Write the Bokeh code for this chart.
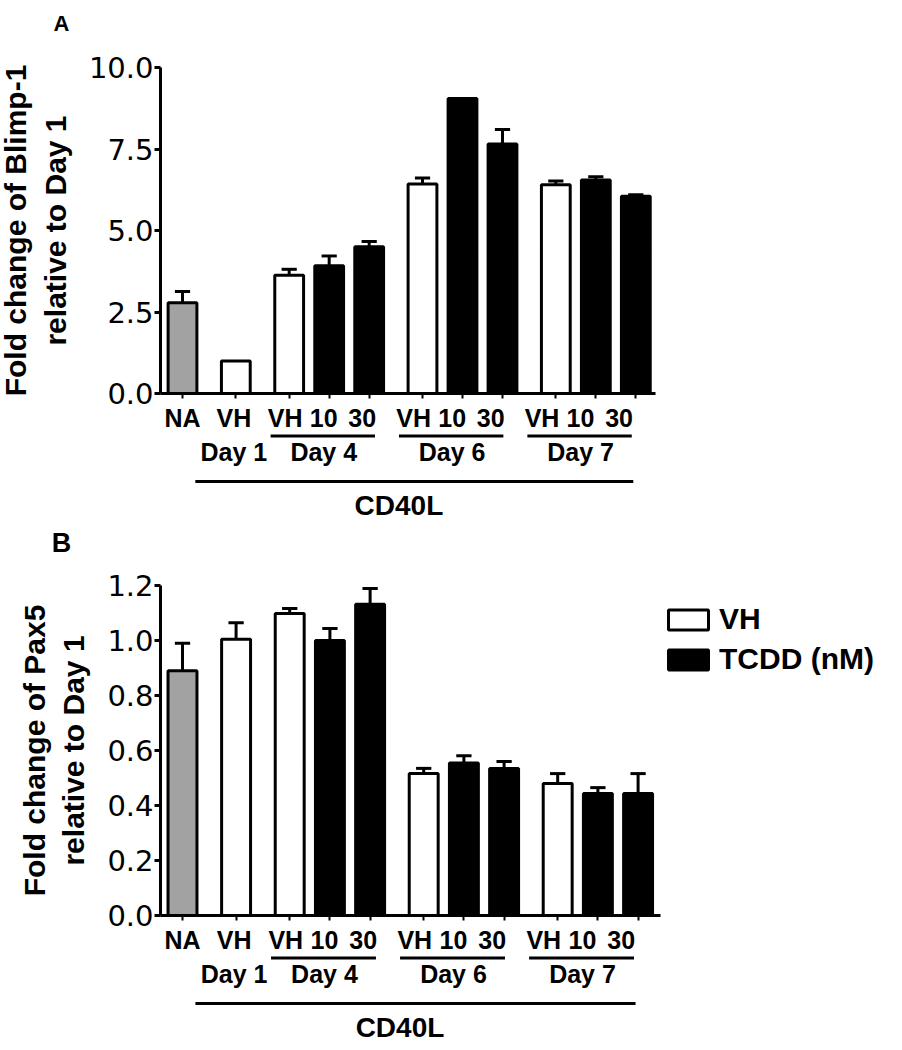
import numpy as np
from bokeh.plotting import figure
from bokeh.models import (ColumnDataSource, LinearAxis, FixedTicker, PrintfTickFormatter,
                          Range1d, Legend, LegendItem)
from bokeh.layouts import column
from bokeh.core.properties import value
from bokeh.embed import file_html
from bokeh.resources import INLINE

# ---------------- data ----------------
conditions = ["NA", "VH", "VH", "10", "30", "VH", "10", "30", "VH", "10", "30"]
treatment = ["NA", "VH", "VH", "TCDD", "TCDD", "VH", "TCDD", "TCDD", "VH", "TCDD", "TCDD"]
group = [0, 1, 2, 2, 2, 3, 3, 3, 4, 4, 4]
day_names = ["", "Day 1", "Day 4", "Day 6", "Day 7"]
stim_label = "CD40L"

blimp_mean = [2.78, 1.0, 3.63, 3.92, 4.50, 6.43, 9.05, 7.65, 6.40, 6.55, 6.05]
blimp_err = [0.35, 0.0, 0.18, 0.30, 0.16, 0.18, 0.0, 0.45, 0.12, 0.10, 0.05]
pax5_mean = [0.89, 1.005, 1.098, 1.0, 1.132, 0.516, 0.555, 0.535, 0.48, 0.444, 0.444]
pax5_err = [0.10, 0.06, 0.018, 0.044, 0.057, 0.019, 0.026, 0.025, 0.036, 0.021, 0.072]

blimp_ticks = [0, 2.5, 5.0, 7.5, 10.0]
pax5_ticks = [0, 0.2, 0.4, 0.6, 0.8, 1.0, 1.2]
blimp_title = "Fold change of Blimp-1\nrelative to Day 1"
pax5_title = "Fold change of Pax5\nrelative to Day 1"
legend_labels = ["VH", "TCDD (nM)"]

# ---------------- layout constants ----------------
FIG_W = 886
ORIGIN = 0         # picture x of the figure's left edge
NA_PX = 182        # picture x of first bar
YAXIS_PX = 160     # picture x of y axis
BAR_W = 0.72
CAP_W = 0.38
LABEL_K = 0.963    # label layer compression seen in the figure
FONT = "Liberation Sans"
BOLD = value(FONT)
# pixel offsets below the x axis: tick labels, underline, day labels, CD40L line, CD40L text
OFFS = [24, 42.5, 58.5, 88, 111.5]

pos = [round(i + g / 3.0, 3) for i, g in enumerate(group)]


def make_panel(letter, letter_size, mean, err, ticks, ytitle, top_px, bottom_px,
               y0_px, ppu, ppx, axis_end_px, legend_loc=None):
    x_start = (ORIGIN - NA_PX) / ppx
    x_end = (ORIGIN + FIG_W - NA_PX) / ppx
    y_end = (y0_px - top_px) / ppu
    y_start = -(bottom_px - y0_px) / ppu
    p = figure(width=FIG_W, height=bottom_px - top_px,
               x_range=Range1d(x_start, x_end), y_range=Range1d(y_start, y_end),
               x_axis_type=None, y_axis_type=None, toolbar_location=None,
               output_backend="svg", min_border=0, outline_line_color=None)
    p.background_fill_color = "white"
    p.border_fill_color = "white"

    yax_x = (YAXIS_PX - NA_PX) / ppx
    yaxis = LinearAxis(fixed_location=yax_x, bounds=(0, ticks[-1]),
                       ticker=FixedTicker(ticks=ticks),
                       formatter=PrintfTickFormatter(format="%.1f"),
                       axis_label=ytitle)
    yaxis.axis_line_width = 3
    yaxis.major_tick_line_width = 3
    yaxis.major_tick_out = 6
    yaxis.major_tick_in = 0
    yaxis.minor_tick_out = 0
    yaxis.minor_tick_in = 0
    yaxis.major_label_standoff = 1
    yaxis.major_label_text_font = "DejaVu Sans"
    yaxis.major_label_text_font_size = "29px"
    yaxis.major_label_text_color = "black"
    yaxis.axis_label_text_font = FONT
    yaxis.axis_label_text_font_style = "bold"
    yaxis.axis_label_text_font_size = "30px"
    yaxis.axis_label_text_color = "black"
    yaxis.axis_label_standoff = 14
    p.add_layout(yaxis, "left")

    xaxis = LinearAxis(fixed_location=0, bounds=(yax_x, (axis_end_px - NA_PX) / ppx),
                       ticker=FixedTicker(ticks=pos))
    xaxis.axis_line_width = 3
    xaxis.major_tick_line_width = 2
    xaxis.major_tick_out = 5
    xaxis.major_tick_in = 0
    xaxis.minor_tick_out = 0
    xaxis.minor_tick_in = 0
    xaxis.major_label_text_alpha = 0
    p.add_layout(xaxis, "below")

    renderers = {}
    styles = {
        "NA": dict(fill_color="#a2a2a2", hatch_pattern="checker", hatch_color="#5a5a5a",
                   hatch_scale=4, hatch_weight=1),
        "VH": dict(fill_color="white"),
        "TCDD": dict(fill_color="black"),
    }
    for t in ["NA", "VH", "TCDD"]:
        idx = [i for i, tt in enumerate(treatment) if tt == t]
        src = ColumnDataSource(dict(x=[pos[i] for i in idx], top=[mean[i] for i in idx]))
        r = p.vbar(x="x", top="top", bottom=0, width=BAR_W, source=src,
                   line_color="black", line_width=3, **styles[t])
        renderers[t] = r

    eidx = [i for i in range(len(mean)) if err[i] > 0]
    esrc = ColumnDataSource(dict(
        x=[pos[i] for i in eidx],
        y0=[mean[i] for i in eidx],
        y1=[mean[i] + err[i] for i in eidx],
        xl=[pos[i] - CAP_W / 2 for i in eidx],
        xr=[pos[i] + CAP_W / 2 for i in eidx],
    ))
    p.segment(x0="x", y0="y0", x1="x", y1="y1", source=esrc, line_color="black", line_width=3)
    p.segment(x0="xl", y0="y1", x1="xr", y1="y1", source=esrc, line_color="black", line_width=3)

    # tick labels (bold)
    ylab = -OFFS[0] / ppu
    p.text(x=[x * LABEL_K for x in pos], y=[ylab] * len(pos), text=conditions,
           text_font=BOLD, text_font_style="bold", text_font_size="25px",
           text_align="center", text_baseline="middle", text_color="black")

    # day groups
    gx, gt, ux0, ux1 = [], [], [], []
    for g in range(1, len(day_names)):
        members = [pos[i] for i in range(len(pos)) if group[i] == g]
        gx.append(float(np.mean(members)) * LABEL_K)
        gt.append(day_names[g])
        if len(members) > 1:
            ux0.append((members[0] - 0.38) * LABEL_K)
            ux1.append((members[-1] + 0.33) * LABEL_K)
    p.text(x=gx, y=[-OFFS[2] / ppu] * len(gx), text=gt,
           text_font=BOLD, text_font_style="bold", text_font_size="25px",
           text_align="center", text_baseline="middle", text_color="black")
    uy = -OFFS[1] / ppu
    p.segment(x0=ux0, y0=[uy] * len(ux0), x1=ux1, y1=[uy] * len(ux0),
              line_color="black", line_width=3)

    stim_members = [pos[i] for i in range(len(pos)) if group[i] >= 1]
    sx0 = (stim_members[0] - 1.0) * LABEL_K
    sx1 = (stim_members[-1] + 0.37) * LABEL_K
    sy = -OFFS[3] / ppu
    p.segment(x0=[sx0], y0=[sy], x1=[sx1], y1=[sy], line_color="black", line_width=3)
    p.text(x=[(sx0 + sx1) / 2 - 0.4 * LABEL_K], y=[-OFFS[4] / ppu], text=[stim_label],
           text_font=BOLD, text_font_style="bold", text_font_size="28px",
           text_align="center", text_baseline="middle", text_color="black")

    # panel letter
    p.text(x=[(61 - NA_PX) / ppx], y=[(y0_px - letter[1]) / ppu], text=[letter[0]],
           text_font=BOLD, text_font_style="bold", text_font_size=letter_size,
           text_align="center", text_baseline="middle", text_color="black")

    if legend_loc is not None:
        legend = Legend(items=[LegendItem(label=legend_labels[0], renderers=[renderers["VH"]]),
                               LegendItem(label=legend_labels[1], renderers=[renderers["TCDD"]])],
                        location=legend_loc)
        legend.border_line_color = None
        legend.background_fill_alpha = 0
        legend.padding = 0
        legend.margin = 0
        legend.spacing = 6
        legend.glyph_width = 50
        legend.glyph_height = 25
        legend.label_standoff = 6
        legend.label_text_font = FONT
        legend.label_text_font_style = "bold"
        legend.label_text_font_size = "30px"
        legend.label_text_color = "black"
        p.add_layout(legend)
    return p


pA = make_panel(("A", 23), "22px", blimp_mean, blimp_err, blimp_ticks, blimp_title,
                top_px=0, bottom_px=522, y0_px=393, ppu=32.6, ppx=40.0, axis_end_px=655)
pB = make_panel(("B", 542), "27px", pax5_mean, pax5_err, pax5_ticks, pax5_title,
                top_px=522, bottom_px=1046, y0_px=915, ppu=275.0, ppx=40.2, axis_end_px=660,
                legend_loc=(663, 370))

layout = column(pA, pB, spacing=0)
open("out.html", "w").write(file_html(layout, INLINE))
